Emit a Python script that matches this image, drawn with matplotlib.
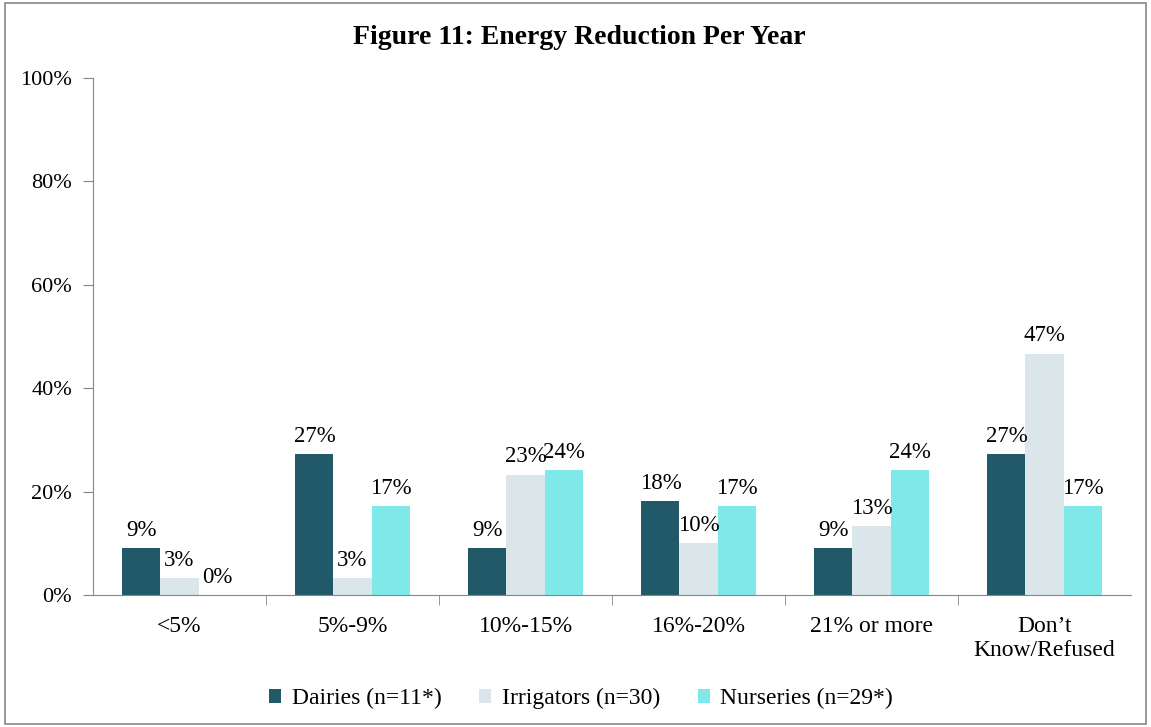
import numpy as np
import matplotlib.pyplot as plt
from matplotlib.patches import Rectangle

categories = ['<5%', '5%-9%', '10%-15%', '16%-20%', '21% or more', 'Don\u2019t\nKnow/Refused']
dairies = [9.1, 27.3, 9.1, 18.2, 9.1, 27.3]
irrigators = [3.3, 3.3, 23.3, 10.0, 13.3, 46.7]
nurseries = [0.0, 17.2, 24.1, 17.2, 24.1, 17.2]
series_names = ['Dairies (n=11*)', 'Irrigators (n=30)', 'Nurseries (n=29*)']
colors = ['#215968', '#DAE6EA', '#7FE9E9']

plt.rcParams['font.family'] = ['Liberation Serif', 'DejaVu Serif']

fig = plt.figure(figsize=(11.51, 7.27), dpi=100)
ax = fig.add_axes([0.0808, 0.1816, 0.9018, 0.7111])

x = np.arange(len(categories))
w = 0.22
for i, (vals, name, col) in enumerate(zip([dairies, irrigators, nurseries], series_names, colors)):
    bars = ax.bar(x + (i - 1) * w, vals, width=w, color=col, label=name)
    for b, v in zip(bars, vals):
        ax.text(b.get_x() + b.get_width() / 2, v + 1.4, '%d%%' % round(v),
                ha='center', va='bottom', fontsize=16.5)

ax.set_xlim(-0.5, len(categories) - 0.5)
ax.set_ylim(0, 100)
ax.set_yticks(range(0, 101, 20))
ax.set_yticklabels(['%d%%' % t for t in range(0, 101, 20)], fontsize=16)
ax.set_xticks(x)
ax.set_xticklabels(categories, fontsize=17)
ax.tick_params(axis='x', length=0, pad=15)
ax.set_xticks(np.arange(0.5, len(categories) - 0.5, 1), minor=True)
ax.tick_params(axis='x', which='minor', length=7, color='#868686')
ax.tick_params(axis='y', length=7, color='#868686', pad=8)
for s in ['top', 'right']:
    ax.spines[s].set_visible(False)
for s in ['left', 'bottom']:
    ax.spines[s].set_color('#868686')

fig.text(0.503, 0.948, 'Figure 11: Energy Reduction Per Year', ha='center', va='center',
         fontsize=20, fontweight='bold')

fig.legend(loc='center', bbox_to_anchor=(0.505, 0.039), ncol=3, frameon=False,
           fontsize=17, handlelength=0.5, handleheight=0.5, columnspacing=1.6, handletextpad=0.45)

fig.patches.append(Rectangle((0.004, 0.004), 0.992, 0.992, transform=fig.transFigure,
                             fill=False, edgecolor='#868686', linewidth=1.2))

fig.savefig('out.png', dpi=100)
